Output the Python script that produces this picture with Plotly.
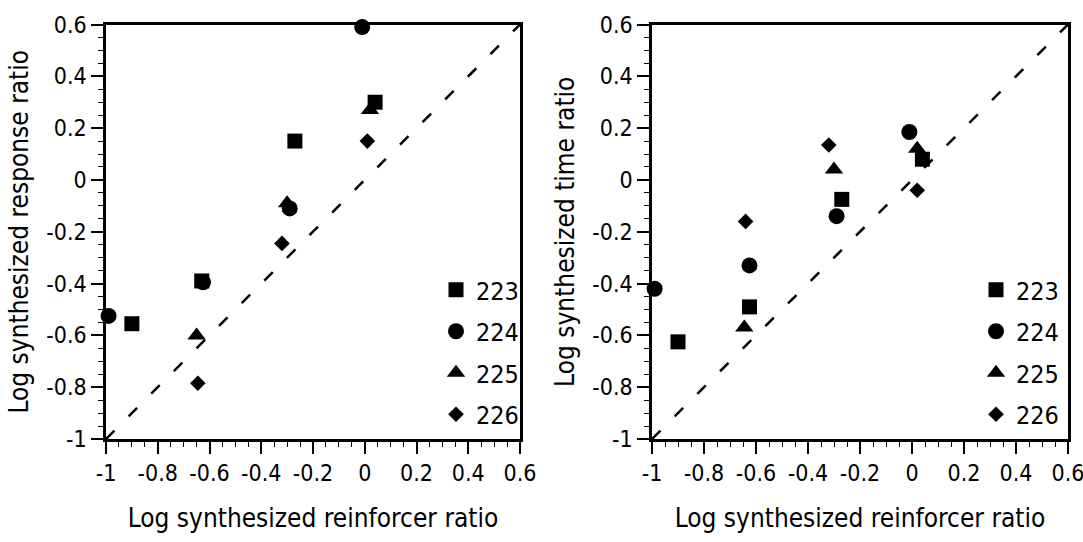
import plotly.graph_objects as go

# ---- data ----
subjects = ["223", "224", "225", "226"]
symbols = ["square", "circle", "triangle-up", "diamond"]
sizes = [15, 16, 16, 12]

# Left panel: log synthesized response ratio vs log synthesized reinforcer ratio
resp_x = {
    "223": [-0.90, -0.63, -0.27, 0.04],
    "224": [-0.99, -0.625, -0.29, -0.01],
    "225": [-0.65, -0.30, 0.02],
    "226": [-0.645, -0.32, 0.01],
}
resp_y = {
    "223": [-0.555, -0.39, 0.15, 0.30],
    "224": [-0.525, -0.395, -0.11, 0.59],
    "225": [-0.60, -0.09, 0.27],
    "226": [-0.785, -0.245, 0.15],
}

# Right panel: log synthesized time ratio vs log synthesized reinforcer ratio
time_x = {
    "223": [-0.90, -0.625, -0.27, 0.04],
    "224": [-0.99, -0.625, -0.29, -0.01],
    "225": [-0.645, -0.30, 0.02],
    "226": [-0.64, -0.32, 0.02],
}
time_y = {
    "223": [-0.625, -0.49, -0.075, 0.08],
    "224": [-0.42, -0.33, -0.14, 0.185],
    "225": [-0.57, 0.04, 0.12],
    "226": [-0.16, 0.135, -0.04],
}

diag_x = [-1, 0.6]
diag_y = [-1, 0.6]

tick_vals = [-1, -0.8, -0.6, -0.4, -0.2, 0, 0.2, 0.4, 0.6]
tick_text = ["-1", "-0.8", "-0.6", "-0.4", "-0.2", "0", "0.2", "0.4", "0.6"]

FONT = "Liberation Sans Narrow, DejaVu Sans Condensed, Arial Narrow, sans-serif"
W, H = 1083, 542

fig = go.Figure()

panels = [
    (resp_x, resp_y, "x", "y", "legend"),
    (time_x, time_y, "x2", "y2", "legend2"),
]
for px, py, xa, ya, lg in panels:
    fig.add_trace(go.Scatter(
        x=diag_x, y=diag_y, mode="lines", xaxis=xa, yaxis=ya,
        line=dict(color="black", width=2.5, dash="12px,20px"),
        showlegend=False, hoverinfo="skip",
    ))
    for s, sym, sz in zip(subjects, symbols, sizes):
        fig.add_trace(go.Scatter(
            x=px[s], y=py[s], mode="markers", name=s,
            xaxis=xa, yaxis=ya, legend=lg, legendgroup=lg + s,
            marker=dict(symbol=sym, size=sz, color="black", line=dict(width=0)),
            cliponaxis=False,
        ))

ydom = [1 - 439 / H, 1 - 24.5 / H]
axis_common = dict(
    range=[-1, 0.6], tickmode="array", tickvals=tick_vals, ticktext=tick_text,
    showgrid=False, zeroline=False, showline=True, linecolor="black",
    linewidth=2.5, mirror=True, ticks="outside", ticklen=12, tickwidth=1.5,
    tickcolor="black", tickfont=dict(family=FONT, size=23, color="black"),
    minor=dict(dtick=0.05, tick0=0, ticks="outside", ticklen=5, tickwidth=1,
               tickcolor="black"),
    ticklabeloverflow="allow",
    automargin=False, fixedrange=True,
)

TITLE_SIZE = 26
fig.update_layout(
    width=W, height=H,
    margin=dict(l=0, r=0, t=0, b=0),
    paper_bgcolor="white", plot_bgcolor="white",
    font=dict(family=FONT, color="black"),
    xaxis=dict(domain=[106 / W, 520 / W], anchor="y",
               title=dict(text="Log synthesized reinforcer ratio",
                          font=dict(family=FONT, size=TITLE_SIZE), standoff=24),
               **axis_common),
    yaxis=dict(domain=ydom, anchor="x",
               title=dict(text="Log synthesized response ratio",
                          font=dict(family=FONT, size=TITLE_SIZE), standoff=11),
               **axis_common),
    xaxis2=dict(domain=[652 / W, 1068 / W], anchor="y2",
                title=dict(text="Log synthesized reinforcer ratio",
                           font=dict(family=FONT, size=TITLE_SIZE), standoff=24),
                **axis_common),
    yaxis2=dict(domain=ydom, anchor="x2",
                title=dict(text="Log synthesized time ratio",
                           font=dict(family=FONT, size=TITLE_SIZE), standoff=11),
                **axis_common),
    legend=dict(x=(456 - 20) / W, y=1 - 267 / H, xanchor="left", yanchor="top",
                font=dict(family=FONT, size=25), bgcolor="rgba(0,0,0,0)",
                tracegroupgap=6, itemsizing="trace", traceorder="grouped"),
    legend2=dict(x=(996 - 20) / W, y=1 - 267 / H, xanchor="left", yanchor="top",
                 font=dict(family=FONT, size=25), bgcolor="rgba(0,0,0,0)",
                 tracegroupgap=6, itemsizing="trace", traceorder="grouped"),
    showlegend=True,
)

fig.write_html("out.html")
